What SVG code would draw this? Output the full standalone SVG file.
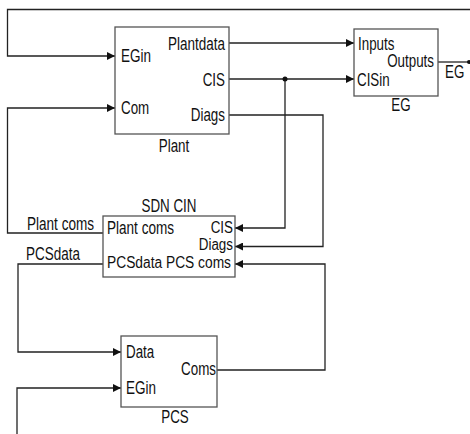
<svg xmlns="http://www.w3.org/2000/svg" width="470" height="434" viewBox="0 0 470 434">
<style>
text{font-family:"Liberation Sans",Arial,sans-serif;font-size:17.5px;fill:#111}
.e{text-anchor:end}
.m{text-anchor:middle}
.s{font-size:16px}
.box{fill:#fff;stroke:#555;stroke-width:1.3}
.w{fill:none;stroke:#222;stroke-width:1.3}
</style>
<defs>
<marker id="ah" markerUnits="userSpaceOnUse" markerWidth="8" markerHeight="8" refX="8" refY="4" orient="auto">
<path d="M0,0 L8,4 L0,8 z" fill="#111"/>
</marker>
</defs>
<rect width="470" height="434" fill="#fff"/>
<g id="connectors">
<path class="w" d="M470,9.5 H7.5 V56 H115" marker-end="url(#ah)"/>
<path class="w" d="M103,233 H7.5 V108 H115" marker-end="url(#ah)"/>
<path class="w" d="M229,43 H354" marker-end="url(#ah)"/>
<path class="w" d="M229,79 H354" marker-end="url(#ah)"/>
<path class="w" d="M285,79 V228 H235" marker-end="url(#ah)"/>
<circle cx="285" cy="79" r="2.5" fill="#111"/>
<path class="w" d="M229,115 H323 V246.5 H235" marker-end="url(#ah)"/>
<path class="w" d="M103,264 H18 V352 H121" marker-end="url(#ah)"/>
<path class="w" d="M217,370 H325 V264 H235" marker-end="url(#ah)"/>
<path class="w" d="M17,434 V388 H121" marker-end="url(#ah)"/>
<path class="w" d="M438,62 H469"/>
<circle cx="469" cy="62" r="2" fill="#111"/>
<text x="445" y="78" textLength="19.3" lengthAdjust="spacingAndGlyphs">EG</text>
<text x="27" y="229.5" textLength="67" lengthAdjust="spacingAndGlyphs">Plant coms</text>
<text x="26" y="260" textLength="54" lengthAdjust="spacingAndGlyphs">PCSdata</text>
</g>
<g id="plant">
<rect class="box" x="115" y="27" width="114" height="107"/>
<text x="121" y="62" textLength="30" lengthAdjust="spacingAndGlyphs">EGin</text>
<text x="121" y="114" textLength="28.2" lengthAdjust="spacingAndGlyphs">Com</text>
<text class="e" x="225" y="49.5" textLength="57" lengthAdjust="spacingAndGlyphs">Plantdata</text>
<text class="e" x="225" y="86" textLength="22.3" lengthAdjust="spacingAndGlyphs">CIS</text>
<text class="e" x="225" y="121" textLength="34.2" lengthAdjust="spacingAndGlyphs">Diags</text>
<text class="m" x="174" y="152" textLength="30.5" lengthAdjust="spacingAndGlyphs">Plant</text>
</g>
<g id="eg">
<rect class="box" x="354" y="29" width="84" height="67"/>
<text x="358" y="49.5" textLength="36.4" lengthAdjust="spacingAndGlyphs">Inputs</text>
<text class="e" x="434" y="67" textLength="46.8" lengthAdjust="spacingAndGlyphs">Outputs</text>
<text x="357" y="86" textLength="32.7" lengthAdjust="spacingAndGlyphs">CISin</text>
<text class="m" x="401" y="111" textLength="19.3" lengthAdjust="spacingAndGlyphs">EG</text>
</g>
<g id="sdn">
<rect class="box" x="103" y="216" width="132" height="61"/>
<text class="m" x="169" y="211.5" textLength="55" lengthAdjust="spacingAndGlyphs">SDN CIN</text>
<text x="107" y="234" textLength="67" lengthAdjust="spacingAndGlyphs">Plant coms</text>
<text class="e s" x="233" y="232.5" textLength="22.3" lengthAdjust="spacingAndGlyphs">CIS</text>
<text class="e s" x="233" y="249.5" textLength="34.2" lengthAdjust="spacingAndGlyphs">Diags</text>
<text class="s" x="107" y="268" textLength="124" lengthAdjust="spacingAndGlyphs">PCSdata PCS coms</text>
</g>
<g id="pcs">
<rect class="box" x="121" y="336" width="96" height="71"/>
<text x="126" y="358" textLength="28.2" lengthAdjust="spacingAndGlyphs">Data</text>
<text x="126" y="394" textLength="30" lengthAdjust="spacingAndGlyphs">EGin</text>
<text class="e" x="216" y="375" textLength="34.9" lengthAdjust="spacingAndGlyphs">Coms</text>
<text class="m" x="175" y="423" textLength="27.5" lengthAdjust="spacingAndGlyphs">PCS</text>
</g>
</svg>
